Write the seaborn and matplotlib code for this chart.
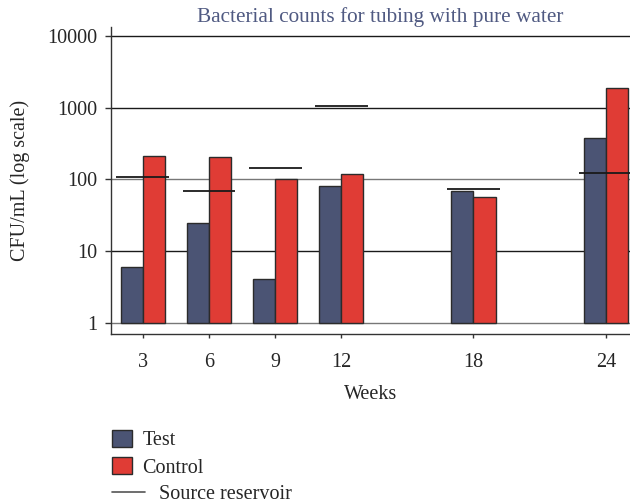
import numpy as np
import pandas as pd
import matplotlib
matplotlib.use("Agg")
import matplotlib.pyplot as plt
import seaborn as sns
from matplotlib.patches import Patch
from matplotlib.lines import Line2D

weeks = [3, 6, 9, 12, 18, 24]
test = [6.1, 24.5, 4.1, 82, 68, 375]
control = [215, 204, 100, 119, 57, 1900]
source = [109, 68, 143, 1060, 73, 124]
ytick_vals = [1, 10, 100, 1000, 10000]
ytick_labels = ["1", "10", "100", "1000", "10000"]

sns.set_theme(style="white")
plt.rcParams["font.family"] = ["Liberation Serif", "DejaVu Serif"]

df = pd.DataFrame({
    "Weeks": weeks * 2,
    "CFU": test + control,
    "Group": ["Test"] * len(weeks) + ["Control"] * len(weeks),
})

c_test = "#4b5474"
c_ctrl = "#e03c35"

fig = plt.figure(figsize=(6.3, 5.03), dpi=100)
ax = fig.add_axes([0.176, 0.336, 0.824, 0.610])

sns.barplot(data=df, x="Weeks", y="CFU", hue="Group", native_scale=True,
            palette={"Test": c_test, "Control": c_ctrl}, width=2/3,
            edgecolor="#2b2b2b", linewidth=1.0, saturation=1, legend=False, ax=ax)
ax.set_yscale("log")
# bars start at 1 (10^0)
for p in ax.patches:
    top = p.get_y() + p.get_height()
    p.set_y(1)
    p.set_height(top - 1)

ax.hlines(source, [w - 1.2 for w in weeks], [w + 1.2 for w in weeks],
          colors="#1a1a1a", linewidth=1.3, zorder=5)

ax.set_ylim(0.70, 13300)
ax.set_xlim(1.55, 25.1)
ax.set_yticks(ytick_vals)
ax.set_yticklabels(ytick_labels)
ax.yaxis.set_minor_locator(matplotlib.ticker.NullLocator())
ax.set_xticks(weeks)
ax.set_xticklabels([str(w) for w in weeks])

ax.set_axisbelow(True)
ax.yaxis.grid(True, color="#1a1a1a", linewidth=1.0)
for val, gl in zip(ytick_vals, ax.get_ygridlines()):
    if val in (1, 100):
        gl.set_color("#777777")

for s in ["top", "right"]:
    ax.spines[s].set_visible(False)
for s in ["left", "bottom"]:
    ax.spines[s].set_color("#333333")
    ax.spines[s].set_linewidth(1.0)

ax.tick_params(axis="y", which="major", direction="out", length=4, width=1,
               color="#333333", pad=6, labelsize=14.5, left=True)
ax.tick_params(axis="x", which="major", direction="out", length=3, width=1,
               color="#333333", pad=11, labelsize=14.5, bottom=True)

ax.set_xlabel("Weeks", fontsize=14.5, labelpad=9)
ax.set_ylabel("CFU/mL (log scale)", fontsize=14.5, labelpad=12)
ax.set_title("Bacterial counts for tubing with pure water", fontsize=15.3,
             color="#505a82", pad=4, x=0.519)

h_patches = [Patch(facecolor=c_test, edgecolor="#2b2b2b", linewidth=1.0),
             Patch(facecolor=c_ctrl, edgecolor="#2b2b2b", linewidth=1.0)]
fig.legend(h_patches, ["Test", "Control"], loc="upper left",
           bbox_to_anchor=(0.165, 1 - 422 / 503), frameon=False,
           fontsize=14.5, handlelength=1.0, handleheight=0.9,
           labelspacing=0.35, handletextpad=0.5, borderaxespad=0)

fig.legend([Line2D([0], [0], color="#555555", linewidth=1.2)],
           ["Source reservoir"], loc="upper left",
           bbox_to_anchor=(0.165, 1 - 477 / 503), frameon=False,
           fontsize=14.5, handlelength=1.65, handletextpad=0.7,
           borderaxespad=0)

fig.savefig("out.png", dpi=100, facecolor="white")
